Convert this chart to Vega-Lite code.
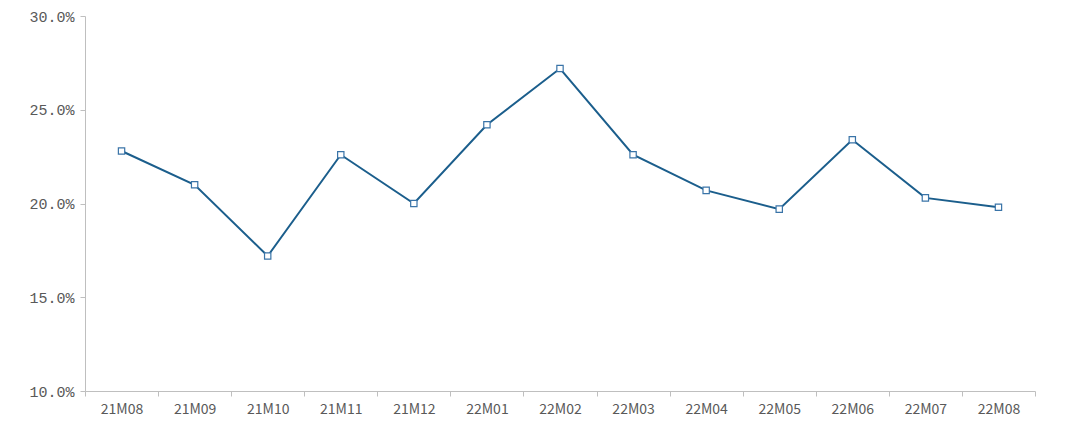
{
  "$schema": "https://vega.github.io/schema/vega-lite/v6.json",
  "width": 950,
  "height": 375,
  "autosize": {"type": "none"},
  "padding": {"left": 85, "top": 16, "right": 45, "bottom": 38},
  "background": "white",
  "config": {"view": {"stroke": null}},
  "data": {"values": [
    {"month": "21M08", "share": 22.8},
    {"month": "21M09", "share": 21.0},
    {"month": "21M10", "share": 17.2},
    {"month": "21M11", "share": 22.6},
    {"month": "21M12", "share": 20.0},
    {"month": "22M01", "share": 24.2},
    {"month": "22M02", "share": 27.2},
    {"month": "22M03", "share": 22.6},
    {"month": "22M04", "share": 20.7},
    {"month": "22M05", "share": 19.7},
    {"month": "22M06", "share": 23.4},
    {"month": "22M07", "share": 20.3},
    {"month": "22M08", "share": 19.8}
  ]},
  "encoding": {
    "x": {
      "field": "month", "type": "ordinal", "sort": null,
      "scale": {"type": "band", "paddingInner": 0, "paddingOuter": 0},
      "axis": {
        "title": null, "labelAngle": 0, "tickBand": "extent",
        "domainColor": "#BFBFBF", "tickColor": "#BFBFBF", "tickSize": 5,
        "labelFont": "Noto Sans CJK SC", "labelFontSize": 14, "labelColor": "#595959",
        "labelPadding": 6, "grid": false
      }
    },
    "y": {
      "field": "share", "type": "quantitative",
      "scale": {"domain": [10, 30], "nice": false, "zero": false},
      "axis": {
        "title": null, "values": [10, 15, 20, 25, 30], "grid": false,
        "labelExpr": "format(datum.value, '.1f') + '%'",
        "domainColor": "#BFBFBF", "tickColor": "#BFBFBF", "tickSize": 5,
        "labelFont": "Liberation Mono", "labelFontSize": 15, "labelColor": "#595959",
        "labelPadding": 6
      }
    }
  },
  "layer": [
    {"mark": {"type": "line", "color": "#1B5E8C", "strokeWidth": 2}},
    {"mark": {"type": "point", "shape": "square", "filled": true, "fill": "white", "stroke": "#3A74A8", "strokeWidth": 1.2, "size": 40, "opacity": 1}}
  ]
}
